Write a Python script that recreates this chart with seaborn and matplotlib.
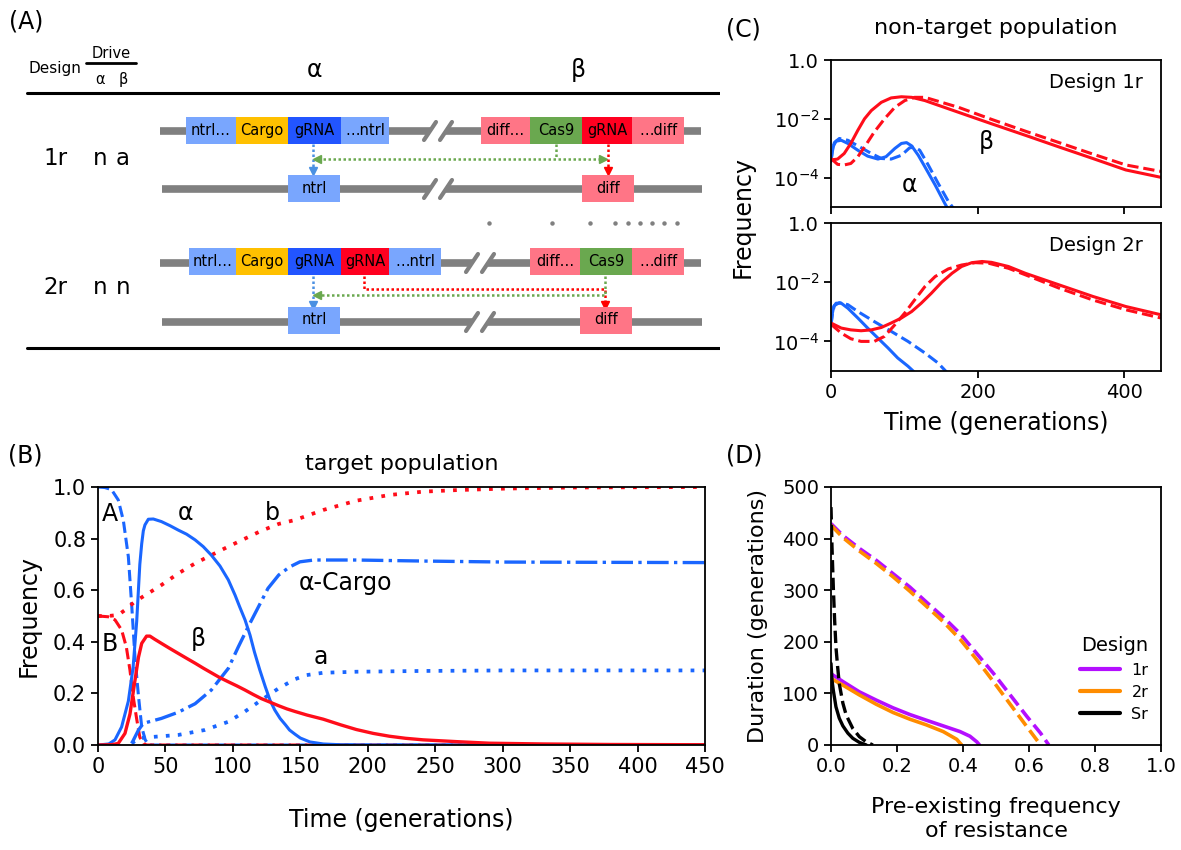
import matplotlib
matplotlib.use("Agg")
import matplotlib.pyplot as plt
from matplotlib.lines import Line2D
from matplotlib.patches import Rectangle
import seaborn as sns

# ---------------- panel B: target population ----------------
alpha_t = [0, 8, 12.6, 17.5, 22.5, 26, 28.7, 31, 32.4, 33.6, 34.8, 37.3, 41, 47, 53.4, 59.5, 65.7, 72, 78, 84,
           90.4, 96.6, 101.6, 105, 109, 112.7, 116, 120, 124, 127.5, 131, 135, 139, 142, 146, 150, 157, 167,
           180, 200, 300, 450]
alpha_f = [0, 0.004, 0.02, 0.07, 0.17, 0.30, 0.48, 0.70, 0.78, 0.83, 0.853, 0.875, 0.876, 0.866, 0.85, 0.833,
           0.817, 0.795, 0.769, 0.736, 0.694, 0.64, 0.581, 0.536, 0.485, 0.426, 0.36, 0.29, 0.226, 0.174, 0.136,
           0.103, 0.078, 0.058, 0.042, 0.027, 0.012, 0.004, 0.001, 0, 0, 0]
A_t = [0, 5, 10, 15, 18.8, 22.5, 25, 27.4, 30, 32.4, 35, 37.3, 40, 450]
A_f = [1.0, 0.998, 0.99, 0.95, 0.87, 0.73, 0.54, 0.34, 0.19, 0.07, 0.02, 0.003, 0, 0]
B_t = [0, 7.7, 12.6, 17.5, 21, 23.7, 26, 28.7, 31, 33.6, 36, 450]
B_f = [0.5, 0.497, 0.485, 0.446, 0.38, 0.29, 0.19, 0.10, 0.03, 0.006, 0, 0]
beta_t = [0, 10, 15, 20, 23.7, 27.4, 30, 32.4, 36, 38.5, 42, 47, 53, 59.5, 65.7, 72, 78, 84, 90, 96.6, 103, 109,
          115, 121, 128, 134, 140, 146, 155, 167, 180, 191.5, 204, 216, 228, 241, 266, 290, 330, 380, 450]
beta_f = [0, 0.001, 0.006, 0.045, 0.12, 0.25, 0.34, 0.394, 0.422, 0.422, 0.41, 0.394, 0.375, 0.355, 0.336,
          0.317, 0.298, 0.28, 0.262, 0.245, 0.229, 0.213, 0.196, 0.18, 0.165, 0.152, 0.14, 0.13, 0.116, 0.1,
          0.078, 0.06, 0.045, 0.034, 0.026, 0.02, 0.013, 0.007, 0.004, 0.002, 0.001]
b_t = [0, 7.7, 15, 20, 27.4, 37.3, 47, 59.5, 72, 84, 96.6, 109, 121, 134, 146, 167, 191.5, 216, 241, 266,
       303, 350, 400, 450]
b_f = [0.5, 0.5, 0.504, 0.523, 0.556, 0.588, 0.62, 0.665, 0.704, 0.736, 0.769, 0.80, 0.83, 0.857, 0.872,
       0.911, 0.947, 0.969, 0.982, 0.988, 0.994, 0.998, 0.999, 1.0]
cargo_t = [25, 30, 33.6, 47, 59.5, 72, 84, 96.6, 104, 111.4, 119, 126, 134, 142, 149.7, 160, 191.5, 241, 303, 450]
cargo_f = [0.006, 0.058, 0.084, 0.103, 0.127, 0.16, 0.213, 0.297, 0.38, 0.459, 0.536, 0.607, 0.659, 0.69,
           0.71, 0.717, 0.717, 0.713, 0.709, 0.707]
a_t = [25, 30, 37.3, 59.5, 79, 96.6, 109, 121, 134, 146, 154.6, 167, 191.5, 241, 303, 450]
a_f = [0.006, 0.026, 0.03, 0.039, 0.058, 0.09, 0.13, 0.174, 0.22, 0.255, 0.271, 0.28, 0.284, 0.287, 0.289, 0.289]

# ---------------- panel C: non-target population ----------------
c1_red_t = [0, 9, 18, 27, 36.6, 45.7, 55, 68.6, 82, 96, 110, 128, 174, 219, 265, 311, 357, 402, 450]
c1_red_f = [3.98e-4, 4.27e-4, 6.6e-4, 1.45e-3, 4.07e-3, 1.0e-2, 1.91e-2, 3.63e-2, 5.13e-2, 5.62e-2, 5.37e-2,
            4.17e-2, 1.66e-2, 6.76e-3, 2.75e-3, 1.10e-3, 4.47e-4, 1.82e-4, 1.02e-4]
c1_redd_t = [0, 9, 18, 27, 36.6, 45.7, 59, 73, 87, 100.6, 114, 128, 174, 219, 265, 311, 357, 402, 450]
c1_redd_f = [4.47e-4, 2.82e-4, 2.69e-4, 3.02e-4, 5.13e-4, 1.10e-3, 3.55e-3, 1.0e-2, 2.45e-2, 4.17e-2, 5.37e-2,
             5.37e-2, 2.45e-2, 9.55e-3, 3.80e-3, 1.55e-3, 6.31e-4, 2.69e-4, 1.62e-4]
c1_blue_t = [0, 1.5, 3.7, 7, 14, 23, 36.6, 50, 64, 75, 87, 96, 103, 110, 119, 128, 142, 155, 159]
c1_blue_f = [3.55e-4, 7.08e-4, 1.26e-3, 1.74e-3, 1.86e-3, 1.45e-3, 8.51e-4, 5.37e-4, 4.27e-4, 5.13e-4, 9.77e-4,
             1.45e-3, 1.55e-3, 1.20e-3, 5.75e-4, 2.34e-4, 5.62e-5, 1.35e-5, 9.0e-6]
c1_blued_t = [0, 2, 4.6, 11.4, 23, 36.6, 55, 68.6, 82, 96, 107, 114, 121, 132.6, 146, 160, 167]
c1_blued_f = [3.55e-4, 8.91e-4, 1.55e-3, 2.14e-3, 1.86e-3, 1.20e-3, 6.61e-4, 4.47e-4, 4.27e-4, 5.75e-4, 1.02e-3,
              1.10e-3, 8.51e-4, 2.69e-4, 6.46e-5, 1.55e-5, 9.0e-6]
c2_red_t = [0, 14, 27, 41, 55, 68.6, 82, 96, 110, 123, 137, 151, 165, 178, 192, 206, 219, 242, 265, 311, 357,
            402, 450]
c2_red_f = [4.17e-4, 2.82e-4, 2.45e-4, 2.29e-4, 2.45e-4, 2.95e-4, 4.17e-4, 6.17e-4, 1.02e-3, 1.95e-3, 4.27e-3,
            1.0e-2, 2.0e-2, 3.39e-2, 4.57e-2, 5.01e-2, 4.68e-2, 3.39e-2, 2.0e-2, 8.13e-3, 3.31e-3, 1.51e-3, 7.94e-4]
c2_redd_t = [0, 14, 27, 41, 59, 73, 87, 100.6, 114, 128, 142, 160, 178, 197, 215, 242, 265, 311, 357, 402, 450]
c2_redd_f = [3.80e-4, 1.91e-4, 1.23e-4, 1.0e-4, 1.0e-4, 1.48e-4, 3.63e-4, 9.12e-4, 2.51e-3, 7.08e-3, 1.55e-2,
             2.82e-2, 3.80e-2, 4.57e-2, 4.37e-2, 2.95e-2, 1.78e-2, 6.31e-3, 2.51e-3, 1.17e-3, 6.17e-4]
c2_blue_t = [0, 1.5, 3.7, 7, 14, 23, 36.6, 50, 64, 77.7, 91, 105, 114]
c2_blue_f = [3.55e-4, 7.94e-4, 1.51e-3, 1.95e-3, 1.95e-3, 1.32e-3, 6.17e-4, 2.82e-4, 1.29e-4, 6.03e-5, 2.75e-5,
             1.45e-5, 9.0e-6]
c2_blued_t = [0, 2, 4.6, 11.4, 23, 36.6, 59, 82, 105, 128, 146, 158]
c2_blued_f = [3.55e-4, 8.91e-4, 1.62e-3, 2.04e-3, 1.74e-3, 1.02e-3, 4.68e-4, 2.19e-4, 1.0e-4, 4.07e-5, 1.86e-5,
              9.0e-6]

# ---------------- panel D: duration vs pre-existing resistance ----------------
d_1r_dash_x = [0, 0.036, 0.086, 0.137, 0.188, 0.239, 0.289, 0.340, 0.391, 0.442, 0.492, 0.543, 0.594, 0.635, 0.660]
d_1r_dash_y = [429, 406, 381, 358, 332, 306, 277, 248, 216, 177, 139, 97, 55, 23, 0]
d_2r_dash_x = [0, 0.036, 0.086, 0.137, 0.188, 0.239, 0.289, 0.340, 0.391, 0.442, 0.492, 0.543, 0.594, 0.635]
d_2r_dash_y = [426, 402, 376, 352, 326, 298, 269, 239, 205, 165, 123, 79, 35, 0]
d_1r_x = [0, 0.036, 0.086, 0.137, 0.188, 0.239, 0.289, 0.340, 0.391, 0.421, 0.442, 0.450]
d_1r_y = [138, 123, 103, 87, 72, 59, 48, 37, 26, 17, 6, 0]
d_2r_x = [0, 0.036, 0.086, 0.137, 0.188, 0.239, 0.289, 0.340, 0.381, 0.396]
d_2r_y = [129, 116, 97, 79, 63, 50, 39, 26, 11, 0]
d_sr_dash_x = [0, 0.003, 0.007, 0.011, 0.015, 0.020, 0.025, 0.036, 0.046, 0.066, 0.086, 0.107, 0.127]
d_sr_dash_y = [461, 384, 306, 242, 190, 152, 119, 81, 58, 32, 16, 6, 0]
d_sr_x = [0, 0.003, 0.007, 0.015, 0.025, 0.036, 0.051, 0.066, 0.086, 0.107]
d_sr_y = [158, 126, 106, 74, 52, 37, 23, 13, 5, 0]
designs = ["1r", "2r", "Sr"]

# ---------------- panel A: construct diagram ----------------
row1_top = ["ntrl…", "Cargo", "gRNA", "…ntrl", "diff…", "Cas9", "gRNA", "…diff"]
row2_top = ["ntrl…", "Cargo", "gRNA", "gRNA", "…ntrl", "diff…", "Cas9", "…diff"]

BLUE = "#1a66ff"
RED = "#ff0d1a"
LBLUE = "#79a6fe"
DBLUE = "#2255ff"
GOLD = "#ffc000"
PINK = "#ff7586"
GREEN = "#6aa84f"
BRED = "#ff0020"
GRAY = "#808080"
PURPLE = "#b40fff"
ORANGE = "#ff8c00"

sns.set_style("ticks", {"axes.edgecolor": "black", "xtick.color": "black", "ytick.color": "black",
                        "text.color": "black", "axes.labelcolor": "black"})
plt.rcParams["font.family"] = ["DejaVu Sans"]
plt.rcParams["mathtext.fontset"] = "dejavusans"
plt.rcParams["axes.linewidth"] = 1.3
plt.rcParams["xtick.major.width"] = 1.3
plt.rcParams["ytick.major.width"] = 1.3
plt.rcParams["xtick.major.size"] = 5
plt.rcParams["ytick.major.size"] = 5

W, H = 1181, 850
fig = plt.figure(figsize=(W / 100, H / 100), dpi=100)


def box(x0, y0, x1, y1):
    return [x0 / W, 1 - y1 / H, (x1 - x0) / W, (y1 - y0) / H]


def line(ax, x, y, color, ls="-", lw=2.2):
    sns.lineplot(x=x, y=y, color=color, linestyle=ls, linewidth=lw, ax=ax, sort=False, estimator=None)


# ---- panel A ----
axA = fig.add_axes([0, 0, 720 / W, 1])
axA.set_xlim(0, 720)
axA.set_ylim(850, 0)
axA.axis("off")


def chrom(y, x0, x1, brk):
    axA.plot([x0, x1], [y, y], color=GRAY, lw=5.5, solid_capstyle="butt", zorder=1)
    axA.plot([brk - 8, brk + 8], [y, y], color="white", lw=7, solid_capstyle="butt", zorder=2)
    for dx in (-8, 8):
        axA.plot([brk + dx - 6, brk + dx + 6], [y + 9, y - 9], color=GRAY, lw=3, zorder=3)


def blocks(yc, edges, labels, colors):
    for x0, x1, lab, col in zip(edges[:-1], edges[1:], labels, colors):
        axA.add_patch(Rectangle((x0, yc - 13.5), x1 - x0, 27, color=col, zorder=4, lw=0))
        axA.text((x0 + x1) / 2, yc, lab, ha="center", va="center", fontsize=10.5, zorder=5)


def dotted(xs, ys, color, head=None):
    axA.plot(xs, ys, color=color, lw=1.8, ls=(0, (1, 1)), zorder=3)
    if head is not None:
        axA.plot([head[0]], [head[1]], marker=head[2], color=color, markersize=6, zorder=3, lw=0)


fig.text(9 / W, 1 - 22 / H, "(A)", fontsize=17, va="center", ha="left")
axA.text(28, 68, "Design", fontsize=11, va="center")
axA.text(111, 53, "Drive", fontsize=10.5, va="center", ha="center")
axA.plot([86, 136], [63, 63], color="black", lw=2)
axA.text(100, 79, "α", fontsize=10.5, ha="center", va="center")
axA.text(123, 79, "β", fontsize=10.5, ha="center", va="center")
axA.text(314, 70, "α", fontsize=17, ha="center", va="center")
axA.text(578, 70, "β", fontsize=17, ha="center", va="center")
axA.plot([27, 720], [93, 93], color="black", lw=2.2)
axA.plot([27, 720], [348, 348], color="black", lw=2.2)

# design 1r
for txt, x in [("1r", 55), ("n", 100), ("a", 123)]:
    axA.text(x, 158, txt, fontsize=16.5, ha="center", va="center")
chrom(131, 160, 701, 438)
blocks(130, [186, 235.5, 288, 341, 389], row1_top[:4], [LBLUE, GOLD, DBLUE, LBLUE])
blocks(130, [481, 530, 582, 632, 684], row1_top[4:], [PINK, GREEN, BRED, PINK])
chrom(189, 162, 702, 438)
blocks(188.5, [288, 340], ["ntrl"], [LBLUE])
blocks(188.5, [582, 634], ["diff"], [PINK])
dotted([313, 313], [144, 170], "#4a90e2", (313, 171, "v"))
dotted([556, 556], [144, 159], GREEN)
dotted([318, 602], [159, 159], GREEN, (317, 159, "<"))
axA.plot([603], [159], marker=">", color=GREEN, markersize=6, lw=0)
dotted([608, 608], [144, 170], "#ff0000", (608, 171, "v"))

# separator dots
sep_x = [489, 552, 590, 615, 628, 640, 652, 664, 677]
axA.plot(sep_x, [223] * len(sep_x), ls="none", marker="o", markersize=2.2, color=GRAY)

# design 2r
for txt, x in [("2r", 55), ("n", 100), ("n", 123)]:
    axA.text(x, 288, txt, fontsize=16.5, ha="center", va="center")
chrom(263, 160, 701, 480)
blocks(261.5, [189, 235.5, 288, 341, 389, 441], row2_top[:5], [LBLUE, GOLD, DBLUE, BRED, LBLUE])
blocks(261.5, [530, 580, 632, 684], row2_top[5:], [PINK, GREEN, PINK])
chrom(322, 162, 702, 480)
blocks(320, [288, 340], ["ntrl"], [LBLUE])
blocks(320, [580, 632], ["diff"], [PINK])
dotted([313, 313], [276, 304], "#4a90e2", (313, 305, "v"))
dotted([364, 364, 605, 605], [276, 289, 289, 304], "#ff0000", (605, 305, "v"))
dotted([605, 605, 318], [276, 295, 295], GREEN, (317, 295, "<"))

# ---- panel B ----
axB = fig.add_axes(box(98, 487, 705, 745))
line(axB, A_t, A_f, BLUE, "--")
line(axB, B_t, B_f, RED, "--")
line(axB, b_t, b_f, RED, (0, (1, 2.2)), 2.7)
line(axB, a_t, a_f, BLUE, (0, (1, 2.2)), 2.7)
line(axB, cargo_t, cargo_f, BLUE, (0, (6.5, 1.6, 1, 1.6)), 2.4)
line(axB, alpha_t, alpha_f, BLUE, "-")
line(axB, beta_t, beta_f, RED, "-", 2.4)
axB.set_xlim(0, 450)
axB.set_ylim(0, 1)
axB.set_xticks(range(0, 451, 50))
axB.set_yticks([0, 0.2, 0.4, 0.6, 0.8, 1.0])
axB.set_yticklabels(["0.0", "0.2", "0.4", "0.6", "0.8", "1.0"])
axB.tick_params(labelsize=15)
axB.set_xlabel("Time (generations)", fontsize=17)
axB.set_ylabel("Frequency", fontsize=17)
axB.xaxis.set_label_coords(0.5, -0.245)
axB.yaxis.set_label_coords(-0.095, 0.5)
axB.set_title("target population", fontsize=16, pad=12)
for s in axB.spines.values():
    s.set_visible(True)
for txt, tx, ty, ha in [("A", 3, 0.897, "left"), ("α", 65, 0.90, "center"), ("b", 129, 0.90, "center"),
                        ("α-Cargo", 149, 0.626, "left"), ("B", 3, 0.39, "left"), ("β", 74, 0.41, "center"),
                        ("a", 165, 0.34, "center")]:
    axB.text(tx, ty, txt, fontsize=17, ha=ha, va="center")
fig.text(8 / W, 1 - 455 / H, "(B)", fontsize=17, va="center", ha="left")

# ---- panel C ----
axC1 = fig.add_axes(box(831, 60, 1161, 207))
axC2 = fig.add_axes(box(831, 223, 1161, 371))
line(axC1, c1_blue_t, c1_blue_f, BLUE, "-", 2.2)
line(axC1, c1_blued_t, c1_blued_f, BLUE, "--", 2.2)
line(axC1, c1_red_t, c1_red_f, RED, "-", 2.2)
line(axC1, c1_redd_t, c1_redd_f, RED, "--", 2.2)
line(axC2, c2_blue_t, c2_blue_f, BLUE, "-", 2.2)
line(axC2, c2_blued_t, c2_blued_f, BLUE, "--", 2.2)
line(axC2, c2_red_t, c2_red_f, RED, "-", 2.2)
line(axC2, c2_redd_t, c2_redd_f, RED, "--", 2.2)
for ax, name in [(axC1, "Design 1r"), (axC2, "Design 2r")]:
    ax.set_yscale("log")
    ax.set_xlim(0, 450)
    ax.set_ylim(1e-5, 1)
    ax.set_xticks([0, 200, 400])
    ax.set_yticks([1, 1e-2, 1e-4])
    ax.set_yticklabels(["1.0", "$10^{-2}$", "$10^{-4}$"])
    ax.minorticks_off()
    ax.tick_params(labelsize=14)
    ax.set_xlabel("")
    ax.set_ylabel("")
    ax.text(0.945, 0.85, name, transform=ax.transAxes, fontsize=14, ha="right", va="center")
    for s in ax.spines.values():
        s.set_visible(True)
axC1.tick_params(labelbottom=False)
axC1.text(212, 1.6e-3, "β", fontsize=17, ha="center", va="center")
axC1.text(107, 5.6e-5, "α", fontsize=17, ha="center", va="center")
axC2.set_xlabel("Time (generations)", fontsize=17)
axC2.xaxis.set_label_coords(0.5, -0.27)
fig.text(743 / W, 1 - 217 / H, "Frequency", fontsize=17, rotation=90, ha="center", va="center")
axC1.set_title("non-target population", fontsize=16, pad=19)
fig.text(726 / W, 1 - 29 / H, "(C)", fontsize=17, va="center", ha="left")

# ---- panel D ----
axD = fig.add_axes(box(831, 487, 1161, 745))
line(axD, d_1r_dash_x, d_1r_dash_y, PURPLE, "--", 2.6)
line(axD, d_2r_dash_x, d_2r_dash_y, ORANGE, "--", 2.6)
line(axD, d_1r_x, d_1r_y, PURPLE, "-", 2.6)
line(axD, d_2r_x, d_2r_y, ORANGE, "-", 2.6)
line(axD, d_sr_dash_x, d_sr_dash_y, "black", "--", 2.4)
line(axD, d_sr_x, d_sr_y, "black", "-", 2.4)
axD.set_xlim(0, 1)
axD.set_ylim(0, 500)
axD.set_xticks([0, 0.2, 0.4, 0.6, 0.8, 1.0])
axD.set_xticklabels(["0.0", "0.2", "0.4", "0.6", "0.8", "1.0"])
axD.set_yticks(range(0, 501, 100))
axD.tick_params(labelsize=14)
axD.set_xlabel("Pre-existing frequency\nof resistance", fontsize=16, linespacing=1.3)
axD.xaxis.set_label_coords(0.5, -0.2)
axD.set_ylabel("Duration (generations)", fontsize=16)
axD.yaxis.set_label_coords(-0.19, 0.5)
for s in axD.spines.values():
    s.set_visible(True)
handles = [Line2D([], [], color=c, lw=3) for c in (PURPLE, ORANGE, "black")]
leg = axD.legend(handles, designs, title="Design", loc="upper left", frameon=False,
                 bbox_to_anchor=(1066 / W, 1 - 622 / H), bbox_transform=fig.transFigure,
                 fontsize=11.5, title_fontsize=14, handlelength=2.5, handletextpad=0.7,
                 labelspacing=0.45)
fig.text(726 / W, 1 - 455 / H, "(D)", fontsize=17, va="center", ha="left")

fig.savefig("out.png", dpi=100)
